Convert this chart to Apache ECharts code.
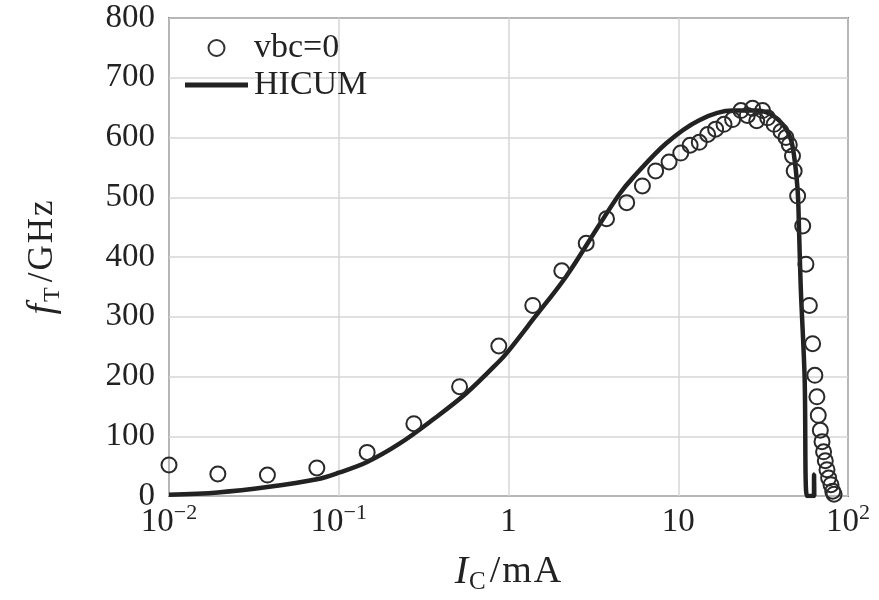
<!DOCTYPE html>
<html>
<head>
<meta charset="utf-8">
<script src="https://cdn.jsdelivr.net/npm/echarts@6/dist/echarts.min.js"></script>
<style>html,body{margin:0;padding:0;background:#fff;}#c{width:879px;height:600px;}</style>
</head>
<body>
<div id="c"></div>
<script>
// Measured data: vbc=0 (circles), x = I_C in mA, y = f_T in GHz
const measIc = [0.01, 0.0194, 0.038, 0.0743, 0.147, 0.277, 0.515, 0.877, 1.39, 2.06, 2.87, 3.78, 4.97, 6.15, 7.36, 8.83, 10.35, 11.75, 13.3, 14.9, 16.6, 18.6, 20.9, 23.4, 25.5, 27.4, 29.0, 31.4, 33.6, 36.7, 40.3, 43.1, 45.1, 47.1, 48.2, 50.5, 54.1, 56.5, 59.2, 61.9, 63.8, 65.6, 66.8, 68.7, 70.3, 71.8, 73.5, 75.2, 76.9, 79.4, 81.3, 82.8];
const measFt = [52, 37, 35, 47, 73, 121, 183, 251, 319, 377, 423, 464, 491, 519, 544, 559, 574, 587, 592, 605, 614, 622, 630, 645, 637, 649, 628, 645, 633, 622, 610, 600, 588, 569, 544, 502, 452, 388, 319, 255, 202, 166, 135, 110, 91, 74, 59, 44, 30, 19, 8, 3];
// HICUM model curve
const modelIc = [0.01, 0.0194, 0.038, 0.0743, 0.1, 0.147, 0.229, 0.359, 0.564, 0.885, 1.0, 1.39, 2.18, 3.43, 4.5, 5.38, 8.47, 13.3, 20.9, 28.7, 35.9, 43.0, 47.0, 50.4, 51.5, 52.7, 55.5, 57.3, 63.0, 63.1, 63.3];
const modelFt = [2, 6, 15, 28, 39, 57, 88, 128, 172, 226, 243, 295, 367, 454, 505, 532, 590, 629, 645, 645, 637, 615, 587, 515, 443, 348, 200, 0, 0, 36, 0];
// Axis ticks
const xTickExp = [-2, -1, 0, 1, 2];
const xTickLabels = ['10{sup|−2}', '10{sup|−1}', '1', '10', '10{sup|2}'];
const yTicks = [0, 100, 200, 300, 400, 500, 600, 700, 800];

const FONT = 'Liberation Serif';
const INK = '#222';
const chart = echarts.init(document.getElementById('c'), null, {renderer: 'canvas'});
chart.setOption({
  backgroundColor: '#fff',
  animation: false,
  grid: {left: 169, right: 31, top: 18, bottom: 102, show: true, borderColor: '#222', borderWidth: 1.5, backgroundColor: 'transparent'},
  legend: {
    orient: 'vertical', left: 180, top: 26, itemGap: 3, itemWidth: 63, itemHeight: 16,
    textStyle: {fontFamily: FONT, fontSize: 34, color: INK, padding: [0, 0, 0, 1]},
    data: [
      {name: 'vbc=0', icon: 'circle', itemStyle: {color: 'transparent', borderColor: '#333', borderWidth: 2}},
      {name: 'HICUM', icon: 'path://M0,0 L61,0 L61,5 L0,5 Z', itemStyle: {color: '#222', borderWidth: 0}}
    ]
  },
  xAxis: {
    type: 'log', logBase: 10, min: 0.01, max: 100,
    name: '{i|I}{sub|C}{n|/}{n|m}{n|A}', nameLocation: 'middle', nameGap: 53,
    nameTextStyle: {fontFamily: FONT, color: INK, fontSize: 38, lineHeight: 46,
      rich: {i: {fontFamily: FONT, fontStyle: 'italic', fontSize: 40, lineHeight: 46, color: INK, padding: [0, 1, 0, 0]},
             sub: {fontFamily: FONT, fontSize: 25, lineHeight: 25, verticalAlign: 'bottom', color: INK, padding: [0, 3, 0, 0]},
             n: {fontFamily: FONT, fontSize: 38, lineHeight: 46, color: INK, padding: [0, 1, 0, 1]}}},
    axisLine: {show: false}, axisTick: {show: false},
    splitLine: {show: true, lineStyle: {color: '#d6d6d6', width: 1.5}},
    minorTick: {show: false}, minorSplitLine: {show: false},
    axisLabel: {
      fontFamily: FONT, fontSize: 33, color: INK, margin: 6, lineHeight: 40,
      formatter: function (v) {
        const e = Math.round(Math.log10(v));
        const k = xTickExp.indexOf(e);
        return k >= 0 ? xTickLabels[k] : '';
      },
      rich: {sup: {fontFamily: FONT, fontSize: 22, lineHeight: 22, verticalAlign: 'top', color: INK}}
    }
  },
  yAxis: {
    type: 'value', min: yTicks[0], max: yTicks[yTicks.length - 1], interval: 100,
    name: '{i|f}{sub|T}{n|/}{n|G}{n|H}{n|z}', nameLocation: 'middle', nameGap: 104,
    nameTextStyle: {fontFamily: FONT, color: INK, fontSize: 35, lineHeight: 44,
      rich: {i: {fontFamily: FONT, fontStyle: 'italic', fontSize: 38, lineHeight: 44, color: INK, padding: [0, 2, 0, 0]},
             sub: {fontFamily: FONT, fontSize: 24, lineHeight: 24, verticalAlign: 'bottom', color: INK, padding: [0, 4, 0, 0]},
             n: {fontFamily: FONT, fontSize: 35, lineHeight: 44, color: INK, padding: [0, 1, 0, 1]}}},
    axisLine: {show: false}, axisTick: {show: false},
    splitLine: {show: true, lineStyle: {color: '#d6d6d6', width: 1.5}},
    axisLabel: {fontFamily: FONT, fontSize: 33, color: INK, margin: 14}
  },
  series: [
    {
      name: 'vbc=0', type: 'scatter', symbol: 'circle', symbolSize: 15,
      itemStyle: {color: 'transparent', borderColor: '#2a2a2a', borderWidth: 2, opacity: 1},
      data: measIc.map((x, i) => [x, measFt[i]]), z: 3
    },
    {
      name: 'HICUM', type: 'line', symbol: 'none', showSymbol: false,
      smooth: 0.35,
      lineStyle: {color: '#222', width: 4.5},
      itemStyle: {color: '#222'},
      data: modelIc.map((x, i) => [x, modelFt[i]]), z: 2
    }
  ]
});
</script>
</body>
</html>
